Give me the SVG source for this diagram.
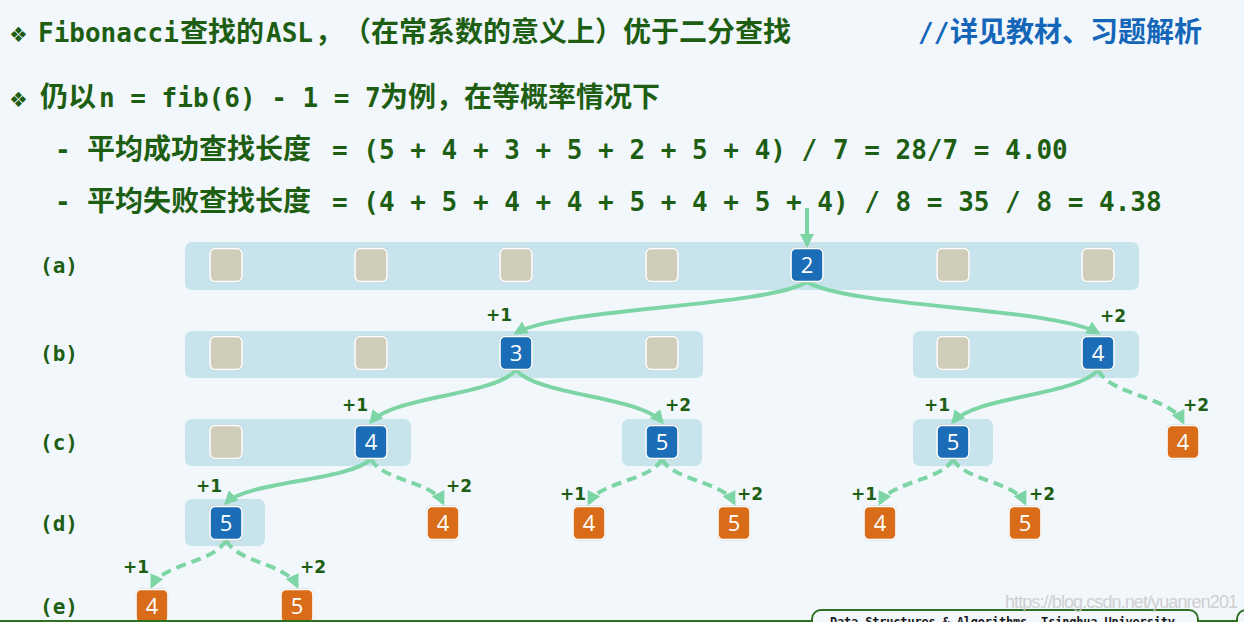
<svg xmlns="http://www.w3.org/2000/svg" width="1244" height="622" viewBox="0 0 1244 622">
<style>
.g{fill:#1d5e12}
.mono{font-family:"DejaVu Sans Mono","Liberation Mono",monospace;font-weight:bold;font-size:26px}
.cjk{font-family:"Noto Sans CJK SC","Noto Sans CJK TC",sans-serif;font-weight:bold;font-size:28px}
.dia{font-family:"DejaVu Sans",sans-serif;font-size:21px}
.row{font-family:"DejaVu Sans Mono","Liberation Mono",monospace;font-weight:bold;font-size:21px;fill:#1d5e12}
.band{fill:#c7e4ec}
.sh{fill:#9c9c9c;opacity:.55}
.beige{fill:#cfccba;stroke:#fff;stroke-width:1.6}
.blue{fill:#1a6db6;stroke:#fff;stroke-width:1.6}
.orange{fill:#d96c18;stroke:#fff;stroke-width:1.6}
.num{font-family:"Open Sans","DejaVu Sans",sans-serif;font-size:22px;fill:#fff;text-anchor:middle}
.lbl{font-family:"DejaVu Sans",sans-serif;font-weight:bold;font-size:17px;fill:#1d5e12;text-anchor:middle}
.con{fill:none;stroke:#7dd5a5;stroke-width:4;marker-end:url(#ah)}
.dash{stroke-dasharray:10 6}
</style>
<defs>
<marker id="ah" markerUnits="userSpaceOnUse" markerWidth="15" markerHeight="14" refX="11" refY="7" orient="auto" viewBox="0 0 15 14">
<path d="M0,0 L14,7 L0,14 z" fill="#7dd5a5"/>
</marker>
</defs>
<rect width="1244" height="622" fill="#f2f7fc"/>

<g id="header">
<text y="42" class="g"><tspan x="9" class="dia">❖</tspan><tspan x="38" class="mono">Fibonacci</tspan><tspan x="180" class="cjk">查找的</tspan><tspan x="266" class="mono">ASL</tspan><tspan x="315" class="cjk">，</tspan><tspan x="343" class="cjk">（在常系数的意义上）优于二分查找</tspan></text>
<text y="42" fill="#1466b8"><tspan x="918" class="mono">//</tspan><tspan x="950" class="cjk">详见教材、习题解析</tspan></text>
<text y="107" class="g"><tspan x="9" class="dia">❖</tspan><tspan x="40" class="cjk">仍以</tspan><tspan x="99" class="mono" xml:space="preserve">n = fib(6) - 1 = 7</tspan><tspan x="380" class="cjk">为例，在等概率情况下</tspan></text>
<text y="159" class="g"><tspan x="55" class="mono">-</tspan><tspan x="87" class="cjk">平均成功查找长度</tspan><tspan x="332" class="mono" xml:space="preserve">= (5 + 4 + 3 + 5 + 2 + 5 + 4) / 7 = 28/7 = 4.00</tspan></text>
<text y="211" class="g"><tspan x="55" class="mono">-</tspan><tspan x="87" class="cjk">平均失败查找长度</tspan><tspan x="332" class="mono" xml:space="preserve">= (4 + 5 + 4 + 4 + 5 + 4 + 5 + 4) / 8 = 35 / 8 = 4.38</tspan></text>
</g>

<g id="row-labels">
<text x="40" y="273" class="row">(a)</text>
<text x="40" y="361" class="row">(b)</text>
<text x="40" y="450" class="row">(c)</text>
<text x="40" y="531" class="row">(d)</text>
<text x="40" y="614" class="row">(e)</text>
</g>

<g id="bands">
<rect x="185" y="242" width="954" height="48" rx="7" class="band"/>
<rect x="185" y="331" width="518" height="47" rx="7" class="band"/>
<rect x="913" y="331" width="226" height="47" rx="7" class="band"/>
<rect x="185" y="419" width="226" height="47" rx="7" class="band"/>
<rect x="622" y="419" width="80" height="47" rx="7" class="band"/>
<rect x="913" y="419" width="80" height="47" rx="7" class="band"/>
<rect x="185" y="499" width="80" height="47" rx="7" class="band"/>
</g>

<g id="connectors">
<path class="con" d="M807,208 L807,245"/>
<path class="con" d="M807,282 C763,307.5 560,307.5 516,333"/>
<path class="con" d="M807,282 C851,307.5 1054,307.5 1098,333"/>
<path class="con" d="M516,370 C494,396 393,396 371,422"/>
<path class="con" d="M516,370 C538,396 640,396 662,422"/>
<path class="con" d="M1098,370 C1076,396 975,396 953,422"/>
<path class="con dash" d="M1098,370 C1111,396 1170,396 1183,422"/>
<path class="con" d="M371,459 C349,481 248,481 226,503"/>
<path class="con dash" d="M371,459 C382,481 432,481 443,503"/>
<path class="con dash" d="M662,459 C651,481 600,481 589,503"/>
<path class="con dash" d="M662,459 C673,481 723,481 734,503"/>
<path class="con dash" d="M953,459 C942,481 891,481 880,503"/>
<path class="con dash" d="M953,459 C964,481 1014,481 1025,503"/>
<path class="con dash" d="M226,540 C215,563 163,563 152,586"/>
<path class="con dash" d="M226,540 C237,563 286,563 297,586"/>
</g>

<g id="edge-labels">
<text x="499" y="321" class="lbl">+1</text>
<text x="1113" y="322" class="lbl">+2</text>
<text x="355" y="411" class="lbl">+1</text>
<text x="678" y="411" class="lbl">+2</text>
<text x="937" y="411" class="lbl">+1</text>
<text x="1196" y="411" class="lbl">+2</text>
<text x="209" y="492" class="lbl">+1</text>
<text x="459" y="492" class="lbl">+2</text>
<text x="573" y="500" class="lbl">+1</text>
<text x="750" y="500" class="lbl">+2</text>
<text x="864" y="500" class="lbl">+1</text>
<text x="1042" y="500" class="lbl">+2</text>
<text x="136" y="573" class="lbl">+1</text>
<text x="313" y="573" class="lbl">+2</text>
</g>

<g id="row-a">
<g id="a1"><rect x="209" y="247.5" width="34" height="35" rx="6" class="sh"/><rect x="210" y="248.5" width="32" height="33" rx="5" class="beige"/></g>
<g id="a2"><rect x="354" y="247.5" width="34" height="35" rx="6" class="sh"/><rect x="355" y="248.5" width="32" height="33" rx="5" class="beige"/></g>
<g id="a3"><rect x="499" y="247.5" width="34" height="35" rx="6" class="sh"/><rect x="500" y="248.5" width="32" height="33" rx="5" class="beige"/></g>
<g id="a4"><rect x="645" y="247.5" width="34" height="35" rx="6" class="sh"/><rect x="646" y="248.5" width="32" height="33" rx="5" class="beige"/></g>
<g id="a5"><rect x="790" y="247.5" width="34" height="35" rx="6" class="sh"/><rect x="791" y="248.5" width="32" height="33" rx="5" class="blue"/><text x="807" y="273" class="num">2</text></g>
<g id="a6"><rect x="936" y="247.5" width="34" height="35" rx="6" class="sh"/><rect x="937" y="248.5" width="32" height="33" rx="5" class="beige"/></g>
<g id="a7"><rect x="1081" y="247.5" width="34" height="35" rx="6" class="sh"/><rect x="1082" y="248.5" width="32" height="33" rx="5" class="beige"/></g>
</g>

<g id="row-b">
<g id="b1"><rect x="209" y="335.5" width="34" height="35" rx="6" class="sh"/><rect x="210" y="336.5" width="32" height="33" rx="5" class="beige"/></g>
<g id="b2"><rect x="354" y="335.5" width="34" height="35" rx="6" class="sh"/><rect x="355" y="336.5" width="32" height="33" rx="5" class="beige"/></g>
<g id="b3"><rect x="499" y="335.5" width="34" height="35" rx="6" class="sh"/><rect x="500" y="336.5" width="32" height="33" rx="5" class="blue"/><text x="516" y="361" class="num">3</text></g>
<g id="b4"><rect x="645" y="335.5" width="34" height="35" rx="6" class="sh"/><rect x="646" y="336.5" width="32" height="33" rx="5" class="beige"/></g>
<g id="b6"><rect x="936" y="335.5" width="34" height="35" rx="6" class="sh"/><rect x="937" y="336.5" width="32" height="33" rx="5" class="beige"/></g>
<g id="b7"><rect x="1081" y="335.5" width="34" height="35" rx="6" class="sh"/><rect x="1082" y="336.5" width="32" height="33" rx="5" class="blue"/><text x="1098" y="361" class="num">4</text></g>
</g>

<g id="row-c">
<g id="c1"><rect x="209" y="424.5" width="34" height="35" rx="6" class="sh"/><rect x="210" y="425.5" width="32" height="33" rx="5" class="beige"/></g>
<g id="c2"><rect x="354" y="424.5" width="34" height="35" rx="6" class="sh"/><rect x="355" y="425.5" width="32" height="33" rx="5" class="blue"/><text x="371" y="450" class="num">4</text></g>
<g id="c4"><rect x="645" y="424.5" width="34" height="35" rx="6" class="sh"/><rect x="646" y="425.5" width="32" height="33" rx="5" class="blue"/><text x="662" y="450" class="num">5</text></g>
<g id="c6"><rect x="936" y="424.5" width="34" height="35" rx="6" class="sh"/><rect x="937" y="425.5" width="32" height="33" rx="5" class="blue"/><text x="953" y="450" class="num">5</text></g>
<g id="c8"><rect x="1166" y="424.5" width="34" height="35" rx="6" class="sh"/><rect x="1167" y="425.5" width="32" height="33" rx="5" class="orange"/><text x="1183" y="450" class="num">4</text></g>
</g>

<g id="row-d">
<g id="d1"><rect x="209" y="505.5" width="34" height="35" rx="6" class="sh"/><rect x="210" y="506.5" width="32" height="33" rx="5" class="blue"/><text x="226" y="531" class="num">5</text></g>
<g id="d2"><rect x="426" y="505.5" width="34" height="35" rx="6" class="sh"/><rect x="427" y="506.5" width="32" height="33" rx="5" class="orange"/><text x="443" y="531" class="num">4</text></g>
<g id="d3"><rect x="572" y="505.5" width="34" height="35" rx="6" class="sh"/><rect x="573" y="506.5" width="32" height="33" rx="5" class="orange"/><text x="589" y="531" class="num">4</text></g>
<g id="d4"><rect x="717" y="505.5" width="34" height="35" rx="6" class="sh"/><rect x="718" y="506.5" width="32" height="33" rx="5" class="orange"/><text x="734" y="531" class="num">5</text></g>
<g id="d5"><rect x="863" y="505.5" width="34" height="35" rx="6" class="sh"/><rect x="864" y="506.5" width="32" height="33" rx="5" class="orange"/><text x="880" y="531" class="num">4</text></g>
<g id="d6"><rect x="1008" y="505.5" width="34" height="35" rx="6" class="sh"/><rect x="1009" y="506.5" width="32" height="33" rx="5" class="orange"/><text x="1025" y="531" class="num">5</text></g>
</g>

<g id="row-e">
<g id="e1"><rect x="135" y="588.5" width="34" height="35" rx="6" class="sh"/><rect x="136" y="589.5" width="32" height="33" rx="5" class="orange"/><text x="152" y="614" class="num">4</text></g>
<g id="e2"><rect x="280" y="588.5" width="34" height="35" rx="6" class="sh"/><rect x="281" y="589.5" width="32" height="33" rx="5" class="orange"/><text x="297" y="614" class="num">5</text></g>
</g>

<g id="footer">
<line x1="0" y1="621" x2="1244" y2="621" stroke="#2e7020" stroke-width="2"/>
<rect x="812" y="610" width="386" height="30" rx="9" fill="#f2f7fc" stroke="#2e7020" stroke-width="2"/>
<rect x="1237" y="610" width="40" height="30" rx="9" fill="#f2f7fc" stroke="#2e7020" stroke-width="2"/>
<text x="830" y="626" font-family="DejaVu Sans Mono,Liberation Mono,monospace" font-weight="bold" font-size="12" fill="#1a1a1a" textLength="345">Data Structures &amp; Algorithms, Tsinghua University</text>
<text x="1005" y="608" font-family="Liberation Sans,Arial,sans-serif" font-size="18" fill="#c9c9c9" opacity="0.85" textLength="233">https://blog.csdn.net/yuanren201</text>
</g>
</svg>
